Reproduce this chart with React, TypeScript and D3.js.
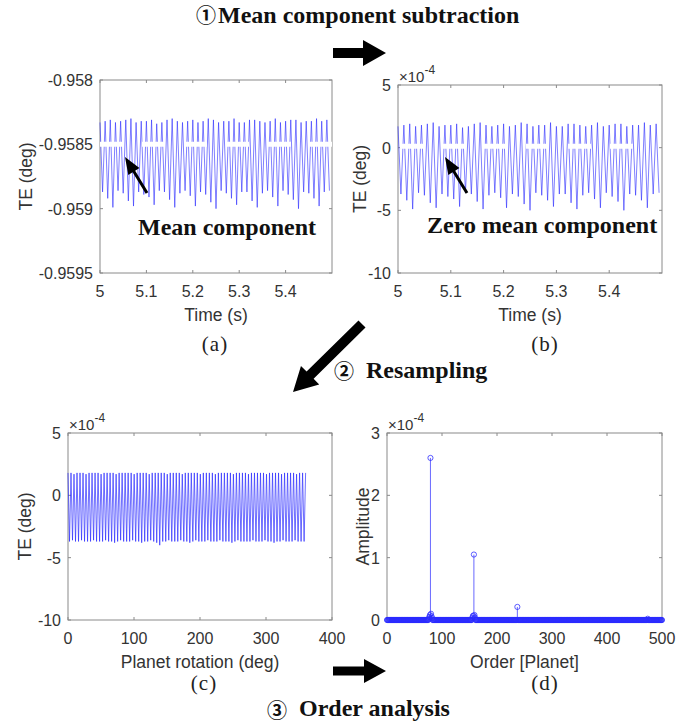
import * as d3 from "d3";

// tick values
const timeTicks = [5, 5.1, 5.2, 5.3, 5.4];
const meanTicks = [-0.958, -0.9585, -0.959, -0.9595];
const teTicks = [5, 0, -5, -10];
const rotTicks = [0, 100, 200, 300, 400];
const orderTicks = [0, 100, 200, 300, 400, 500];
const ampTicks = [0, 1, 2, 3];

// TE in time domain, per mesh cycle (x1e-4 deg, around the mean)
const meanTE = -0.9585;
const cyclePeaks = [
  1.7, 1.8, 1.9, 1.7, 1.8, 1.9, 2.0, 1.7, 1.8, 1.8, 1.9, 1.6, 1.7, 1.9, 2.0,
  1.8, 1.7, 1.8, 1.9, 1.7, 1.8, 2.0, 1.9, 1.7, 1.8, 1.8, 2.0, 1.7, 1.7, 1.9,
  1.9, 1.8, 1.7, 1.8, 2.0, 1.7, 1.8, 1.9, 1.9, 1.7, 1.8, 1.8, 2.0, 1.8, 1.9,
];
const cycleTroughs = [
  -3.7, -4.2, -4.9, -3.6, -3.8, -4.4, -4.8, -3.7, -3.9, -4.1, -4.7, -3.6, -3.7,
  -4.3, -4.9, -3.8, -3.6, -4.0, -4.8, -3.7, -3.9, -4.5, -5.0, -3.6, -3.8, -4.2,
  -4.7, -3.7, -3.7, -4.4, -4.9, -3.8, -3.6, -4.1, -4.8, -3.6, -3.9, -4.3, -5.0,
  -3.7, -3.8, -4.2, -4.8, -3.7, -3.6,
];

// resampled TE over one planet rotation (x1e-4 deg)
const rotPeaks = [
  1.8, 1.8, 1.7, 1.8, 1.8, 1.8, 1.7, 1.8, 1.8, 1.8, 1.8, 1.7, 1.8, 1.8, 1.8,
  1.8, 1.7, 1.8, 1.8, 1.8, 1.8, 1.8, 1.7, 1.8, 1.8, 1.8, 1.8, 1.7, 1.8, 1.8,
  1.8, 1.8, 1.8, 1.7, 1.8, 1.8, 1.8, 1.8, 1.7, 1.8, 1.8, 1.8, 1.8, 1.8, 1.7,
  1.8, 1.8, 1.8, 1.8, 1.7, 1.8, 1.8, 1.8, 1.8, 1.8, 1.7, 1.8, 1.8, 1.8, 1.8,
  1.7, 1.8, 1.8, 1.8, 1.8, 1.8, 1.7, 1.8, 1.8, 1.8, 1.8, 1.7, 1.8, 1.8, 1.8,
  1.8, 1.7, 1.8, 1.8,
];
const rotTroughs = [
  -3.7, -3.6, -3.7, -3.7, -3.6, -3.7, -3.7, -3.7, -3.6, -3.7, -3.7, -3.7, -3.6,
  -3.7, -3.7, -3.8, -3.7, -3.6, -3.7, -3.7, -3.7, -3.6, -3.7, -3.7, -3.8, -3.7,
  -3.7, -3.6, -3.7, -3.8, -4.0, -3.7, -3.7, -3.6, -3.7, -3.7, -3.7, -3.6, -3.7,
  -3.7, -3.8, -3.7, -3.6, -3.7, -3.7, -3.7, -3.6, -3.7, -3.7, -3.7, -3.6, -3.7,
  -3.7, -3.7, -3.8, -3.7, -3.6, -3.7, -3.7, -3.7, -3.7, -3.6, -3.7, -3.7, -3.7,
  -3.6, -3.7, -3.7, -3.8, -3.7, -3.7, -3.6, -3.7, -3.7, -3.7, -3.6, -3.7, -3.7,
  -3.7,
];

// order spectrum (x1e-4), bins every order, zero except these
const orderBins = d3.range(0, 501);
const peakOrders = [76, 77, 78, 79, 80, 81, 82, 155, 156, 157, 158, 159, 160, 237, 474];
const peakAmps = [0.02, 0.05, 0.08, 2.6, 0.1, 0.06, 0.03, 0.03, 0.06, 0.07, 1.05, 0.08, 0.04, 0.21, 0.02];

const BLUE = "#2a2aff";
const AXIS = "#8a8a8a";
const TXT = "#333333";
const SANS = "'Liberation Sans', Arial, sans-serif";
const SERIF = "'Liberation Serif', 'Times New Roman', serif";

type Pt = { t: number; v: number };

function zigzag(peaks: number[], troughs: number[], t0: number, t1: number, scale: number, offset: number): Pt[] {
  const T = (t1 - t0) / peaks.length;
  const pts: Pt[] = [];
  peaks.forEach((p, i) => {
    pts.push({ t: t0 + i * T, v: offset + p * scale });
    pts.push({ t: t0 + (i + 0.5) * T, v: offset + troughs[i] * scale });
  });
  return pts;
}

function Frame({ x, y, xTicks, yTicks, xFmt, yFmt, xLabel, yLabel, yLabelX, exponent }: any) {
  const [x0, x1] = x.range();
  const [y1, y0] = y.range();
  const tl = 3;
  return (
    <g>
      <rect x={x0} y={y0} width={x1 - x0} height={y1 - y0} fill="none" stroke={AXIS} strokeWidth={1} />
      {xTicks.map((t: number) => (
        <g key={"x" + t}>
          <line x1={x(t)} x2={x(t)} y1={y1} y2={y1 - tl} stroke={AXIS} />
          <line x1={x(t)} x2={x(t)} y1={y0} y2={y0 + tl} stroke={AXIS} />
          <text x={x(t)} y={y1 + 24} textAnchor="middle" fontFamily={SANS} fontSize={16} fill={TXT}>
            {xFmt(t)}
          </text>
        </g>
      ))}
      {yTicks.map((t: number) => (
        <g key={"y" + t}>
          <line x1={x0} x2={x0 + tl} y1={y(t)} y2={y(t)} stroke={AXIS} />
          <line x1={x1} x2={x1 - tl} y1={y(t)} y2={y(t)} stroke={AXIS} />
          <text x={x0 - 7} y={y(t) + 6} textAnchor="end" fontFamily={SANS} fontSize={16} fill={TXT}>
            {yFmt(t)}
          </text>
        </g>
      ))}
      <text x={(x0 + x1) / 2} y={y1 + 48} textAnchor="middle" fontFamily={SANS} fontSize={17.5} fill={TXT}>
        {xLabel}
      </text>
      <text
        transform={`translate(${yLabelX},${(y0 + y1) / 2}) rotate(-90)`}
        textAnchor="middle"
        dominantBaseline="central"
        fontFamily={SANS}
        fontSize={17.5}
        fill={TXT}
      >
        {yLabel}
      </text>
      {exponent && (
        <text x={x0 + 1} y={y0 - 3} fontFamily={SANS} fontSize={15} fill={TXT}>
          ×10
          <tspan dy={-8} fontSize={12}>-4</tspan>
        </text>
      )}
    </g>
  );
}

function arrowPoints(xa: number, ya: number, xb: number, yb: number, sw: number, hw: number, hl: number) {
  const dx = xb - xa, dy = yb - ya;
  const L = Math.hypot(dx, dy);
  const ux = dx / L, uy = dy / L;
  const nx = -uy, ny = ux;
  const bx = xb - ux * hl, by = yb - uy * hl;
  const p = [
    [xa + nx * sw / 2, ya + ny * sw / 2],
    [bx + nx * sw / 2, by + ny * sw / 2],
    [bx + nx * hw / 2, by + ny * hw / 2],
    [xb, yb],
    [bx - nx * hw / 2, by - ny * hw / 2],
    [bx - nx * sw / 2, by - ny * sw / 2],
    [xa - nx * sw / 2, ya - ny * sw / 2],
  ];
  return p.map((q) => q.join(",")).join(" ");
}

function Circled({ cx, cy, n }: { cx: number; cy: number; n: string }) {
  return (
    <text x={cx} y={cy} textAnchor="middle" dominantBaseline="central" fontFamily="'Noto Sans CJK SC', 'DejaVu Sans', sans-serif" fontWeight="bold" fontSize={20} fill="#111">
      {n}
    </text>
  );
}

export default function App() {
  // (a)
  const xa = d3.scaleLinear().domain([5, 5.5]).range([100, 332]);
  const ya = d3.scaleLinear().domain([-0.9595, -0.958]).range([273, 80]);
  // (b)
  const xb = d3.scaleLinear().domain([5, 5.5]).range([398, 662]);
  const yb = d3.scaleLinear().domain([-10, 5]).range([273, 85]);
  // (c)
  const xc = d3.scaleLinear().domain([0, 400]).range([68, 332]);
  const yc = d3.scaleLinear().domain([-10, 5]).range([620, 433]);
  // (d)
  const xd = d3.scaleLinear().domain([0, 500]).range([387, 662]);
  const yd = d3.scaleLinear().domain([0, 3]).range([620, 433]);

  const seriesA = zigzag(cyclePeaks, cycleTroughs, 5, 5.5, 1e-4, meanTE);
  const seriesB = zigzag(cyclePeaks, cycleTroughs, 5, 5.5, 1, 0);
  const seriesC = zigzag(rotPeaks, rotTroughs, 0, 360, 1, 0);
  seriesC.push({ t: 360, v: rotPeaks[0] });

  const lineA = d3.line<Pt>().x((d) => xa(d.t)).y((d) => ya(d.v));
  const lineB = d3.line<Pt>().x((d) => xb(d.t)).y((d) => yb(d.v));
  const lineC = d3.line<Pt>().x((d) => xc(d.t)).y((d) => yc(d.v));

  const amp = orderBins.map((o) => {
    const k = peakOrders.indexOf(o);
    return { o, a: k >= 0 ? peakAmps[k] : 0 };
  });

  const dash = "23 19";

  return (
    <svg width={700} height={728} style={{ position: "absolute", left: 0, top: 0, background: "#fff" }}>
      {/* titles */}
      <Circled cx={206} cy={14} n="①" />
      <text x={218} y={23} fontFamily={SERIF} fontWeight="bold" fontSize={24} fill="#111">
        Mean component subtraction
      </text>
      <polygon points={arrowPoints(333, 53, 386, 53, 10, 26, 23)} fill="#000" />

      {/* (a) */}
      <Frame x={xa} y={ya} xTicks={timeTicks} yTicks={meanTicks} xFmt={(t: number) => String(t)} yFmt={(t: number) => String(t)} xLabel="Time (s)" yLabel="TE (deg)" yLabelX={26} />
      <path d={lineA(seriesA) || ""} fill="none" stroke={BLUE} strokeWidth={0.8} strokeOpacity={0.75} />
      <line x1={xa(5)} x2={xa(5.5)} y1={ya(meanTE)} y2={ya(meanTE)} stroke="#fff" strokeWidth={5} strokeDasharray={dash} />
      <polygon points={arrowPoints(147, 193, 125, 157, 3, 13, 17)} fill="#000" />
      <text x={138} y={235} fontFamily={SERIF} fontWeight="bold" fontSize={24} fill="#111">
        Mean component
      </text>
      <text x={215} y={351} textAnchor="middle" fontFamily={SERIF} fontSize={21} letterSpacing={1} fill="#222">
        (a)
      </text>

      {/* (b) */}
      <Frame x={xb} y={yb} xTicks={timeTicks} yTicks={teTicks} xFmt={(t: number) => String(t)} yFmt={(t: number) => String(t)} xLabel="Time (s)" yLabel="TE (deg)" yLabelX={360} exponent />
      <path d={lineB(seriesB) || ""} fill="none" stroke={BLUE} strokeWidth={0.8} strokeOpacity={0.75} />
      <line x1={xb(5)} x2={xb(5.45)} y1={yb(0) - 1.5} y2={yb(0) - 1.5} stroke="#fff" strokeWidth={5} strokeDasharray={dash} strokeDashoffset={-2} />
      <polygon points={arrowPoints(467, 193, 445, 157, 3, 13, 17)} fill="#000" />
      <text x={427} y={233} fontFamily={SERIF} fontWeight="bold" fontSize={24} fill="#111">
        Zero mean component
      </text>
      <text x={545} y={351} textAnchor="middle" fontFamily={SERIF} fontSize={21} letterSpacing={1} fill="#222">
        (b)
      </text>

      {/* step 2 */}
      <polygon points={arrowPoints(362, 324, 293, 392, 10, 26, 24)} fill="#000" />
      <Circled cx={344} cy={370} n="②" />
      <text x={366} y={378} fontFamily={SERIF} fontWeight="bold" fontSize={24} fill="#111">
        Resampling
      </text>

      {/* (c) */}
      <Frame x={xc} y={yc} xTicks={rotTicks} yTicks={teTicks} xFmt={(t: number) => String(t)} yFmt={(t: number) => String(t)} xLabel="Planet rotation (deg)" yLabel="TE (deg)" yLabelX={25} exponent />
      <path d={lineC(seriesC) || ""} fill="none" stroke={BLUE} strokeWidth={0.8} strokeOpacity={0.85} />
      <text x={204} y={690} textAnchor="middle" fontFamily={SERIF} fontSize={21} letterSpacing={1} fill="#222">
        (c)
      </text>

      {/* (d) */}
      <Frame x={xd} y={yd} xTicks={orderTicks} yTicks={ampTicks} xFmt={(t: number) => String(t)} yFmt={(t: number) => String(t)} xLabel="Order [Planet]" yLabel="Amplitude" yLabelX={363} exponent />
      <g>
        {amp.filter((d) => d.a > 0).map((d) => (
          <line key={"s" + d.o} x1={xd(d.o)} x2={xd(d.o)} y1={yd(0)} y2={yd(d.a)} stroke={BLUE} strokeWidth={1} strokeOpacity={0.7} />
        ))}
        {amp.map((d) => (
          <circle key={"m" + d.o} cx={xd(d.o)} cy={yd(d.a)} r={2.6} fill="none" stroke={BLUE} strokeWidth={0.9} strokeOpacity={0.85} />
        ))}
      </g>
      <text x={545} y={690} textAnchor="middle" fontFamily={SERIF} fontSize={21} letterSpacing={1} fill="#222">
        (d)
      </text>

      {/* step 3 */}
      <polygon points={arrowPoints(333, 671, 386, 671, 9, 24, 22)} fill="#000" />
      <Circled cx={277} cy={709} n="③" />
      <text x={299} y={716} fontFamily={SERIF} fontWeight="bold" fontSize={24} fill="#111">
        Order analysis
      </text>
    </svg>
  );
}
